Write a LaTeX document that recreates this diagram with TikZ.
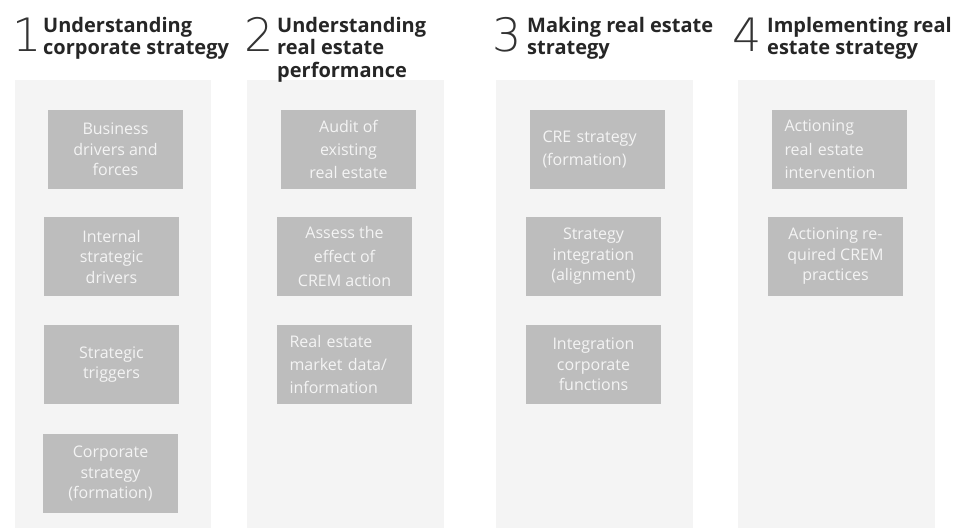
\documentclass[tikz,border=0pt]{standalone}
\usepackage{fontspec}
\setmainfont{Open Sans}
\newfontfamily\digitfont{DejaVu Sans ExtraLight}
\definecolor{panelgray}{HTML}{F4F4F4}
\definecolor{boxgray}{HTML}{BDBDBD}
\definecolor{boxtext}{HTML}{F4F4F4}
\definecolor{titletext}{HTML}{262626}
\definecolor{digittext}{HTML}{333333}
\tikzset{
  panelbg/.style={fill=panelgray, draw=none},
  cbox/.style={fill=boxgray, draw=none, text=boxtext, minimum width=135pt, minimum height=79pt,
    inner sep=0pt, align=center, font=\fontsize{16}{20.5}\selectfont},
  lbox/.style={cbox, align=left, text width=110pt, inner xsep=12.5pt},
  wide/.style={font=\fontsize{16}{23.5}\selectfont},
  titlelabel/.style={anchor=north west, inner sep=0pt, align=left, text=titletext,
    font=\bfseries\fontsize{20}{22.5}\selectfont},
  digitlabel/.style={anchor=base west, inner sep=0pt, text=digittext,
    font=\digitfont\fontsize{46}{46}\selectfont}
}
\begin{document}
\begin{tikzpicture}[x=1pt,y=-1pt]
\useasboundingbox (0,0) rectangle (959,528);
\fill[white] (0,0) rectangle (959,528);
% panels
\fill[panelbg] (15,80) rectangle (211,528);
\fill[panelbg] (247,80) rectangle (444,528);
\fill[panelbg] (496,80) rectangle (693,528);
\fill[panelbg] (738,80) rectangle (935,528);
% headings
\node[digitlabel] (d1) at (12,51) {1};
\node[titlelabel] (t1) at (43,17) {Understanding\\corporate strategy};
\node[digitlabel] (d2) at (244,51) {2};
\node[titlelabel] (t2) at (277,17) {Understanding\\real estate\\performance};
\node[digitlabel] (d3) at (492,51) {3};
\node[titlelabel] (t3) at (527,17) {Making real estate\\strategy};
\node[digitlabel] (d4) at (732,51) {4};
\node[titlelabel] (t4) at (767,17) {Implementing real\\estate strategy};
% column 1
\node[cbox] (b11) at (115.5,149.5) {Business\\drivers and\\forces};
\node[cbox] (b12) at (111.5,256.5) {Internal\\strategic\\drivers};
\node[cbox] (b13) at (111.5,364.5) {Strategic\\triggers};
\node[cbox] (b14) at (110.5,473.5) {Corporate\\strategy\\(formation)};
% column 2
\node[cbox, font=\fontsize{16}{23}\selectfont] (b21) at (348.5,149.5) {Audit of\\existing\\real estate};
\node[cbox, font=\fontsize{16}{24}\selectfont] (b22) at (344.5,256.5) {Assess the\\effect of\\CREM action};
\node[lbox, font=\fontsize{16}{23}\selectfont] (b23) at (344.5,364.5) {Real estate\\market data/\\information};
% column 3
\node[lbox, font=\fontsize{16}{23}\selectfont] (b31) at (597.5,149.5) {CRE strategy\\(formation)};
\node[cbox] (b32) at (593.5,256.5) {Strategy\\integration\\(alignment)};
\node[cbox] (b33) at (593.5,364.5) {Integration\\corporate\\functions};
% column 4
\node[lbox, font=\fontsize{16}{23.5}\selectfont] (b41) at (839.5,149.5) {Actioning\\real estate\\intervention};
\node[cbox] (b42) at (835.5,256.5) {Actioning re-\\quired CREM\\practices};
\end{tikzpicture}
\end{document}
